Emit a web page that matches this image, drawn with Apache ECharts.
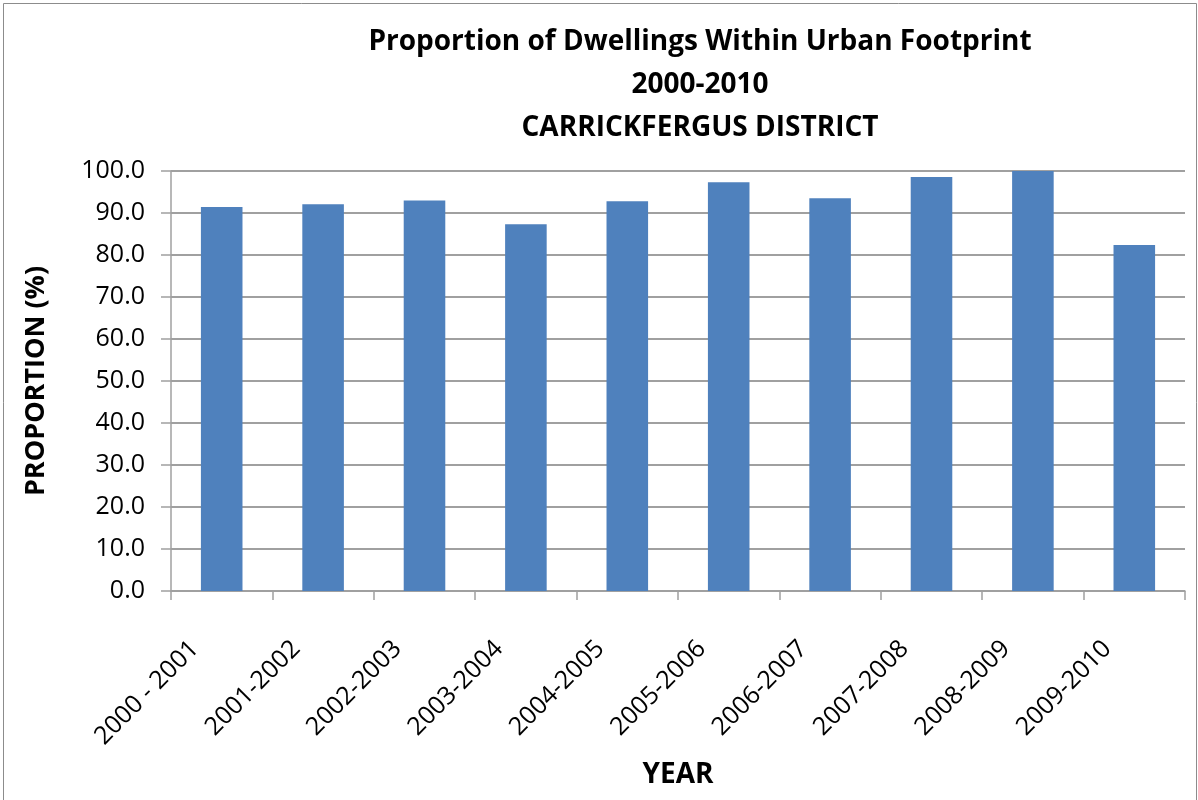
<!DOCTYPE html>
<html>
<head>
<meta charset="utf-8">
<script src="https://cdn.jsdelivr.net/npm/echarts@6/dist/echarts.min.js"></script>
<style>
  html, body { margin: 0; padding: 0; background: #fff; }
  #chart { width: 1198px; height: 800px; }
</style>
</head>
<body>
<div id="chart"></div>
<script>
// 数据
const years = ['2000 - 2001', '2001-2002', '2002-2003', '2003-2004', '2004-2005',
  '2005-2006', '2006-2007', '2007-2008', '2008-2009', '2009-2010']
const proportion = [91.4, 92.1, 93.0, 87.3, 92.8, 97.3, 93.5, 98.6, 100.0, 82.4]
const titleLines = ['Proportion of Dwellings Within Urban Footprint', '2000-2010', 'CARRICKFERGUS DISTRICT']

const font = '"Open Sans", "Noto Sans", sans-serif'
const chart = echarts.init(document.getElementById('chart'))

const option = {
  animation: false,
  title: {
    text: titleLines.join('\n'),
    left: 695,
    top: 16,
    textAlign: 'center',
    textStyle: {
      fontFamily: font,
      fontWeight: 'bold',
      fontSize: 28,
      lineHeight: 43,
      color: '#000'
    }
  },
  // 外框
  graphic: [{
    type: 'rect',
    shape: { x: 3.5, y: 3.5, width: 1193, height: 800 },
    style: { fill: 'none', stroke: '#8c8c8c', lineWidth: 1 },
    silent: true
  }],
  grid: {
    left: 171,
    right: 13,
    top: 171,
    bottom: 209,
    outerBoundsMode: 'none'  // 不自动收缩绘图区
  },
  xAxis: {
    type: 'category',
    data: years,
    name: 'YEAR',
    nameLocation: 'middle',
    nameGap: 170,
    nameTextStyle: { fontFamily: font, fontWeight: 'bold', fontSize: 28, color: '#000' },
    axisLine: { lineStyle: { color: '#a0a0a0', width: 1.5 } },
    axisTick: { show: true, length: 9, lineStyle: { color: '#a0a0a0', width: 1.5 } },
    axisLabel: {
      interval: 0,
      rotate: 45,
      margin: 27,
      padding: [0, 38, 0, 0],  // 沿文字方向左移，使标签末端对齐参考图
      fontFamily: font,
      fontSize: 25,
      color: '#000'
    }
  },
  yAxis: {
    type: 'value',
    min: 0,
    max: 100,
    interval: 10,
    name: 'PROPORTION (%)',
    nameLocation: 'middle',
    nameGap: 121,
    nameTextStyle: { fontFamily: font, fontWeight: 'bold', fontSize: 27, color: '#000' },
    axisLine: { show: true, lineStyle: { color: '#a0a0a0', width: 1.5 } },
    axisTick: { show: true, length: 10, lineStyle: { color: '#a0a0a0', width: 1.5 } },
    splitLine: { lineStyle: { color: '#a0a0a0', width: 2 } },
    axisLabel: {
      margin: 26,
      fontFamily: font,
      fontSize: 25,
      color: '#000',
      formatter: (v) => v.toFixed(1)
    }
  },
  series: [{
    type: 'bar',
    data: proportion,
    barCategoryGap: '59%',
    itemStyle: { color: '#4f81bd' }
  }]
}
chart.setOption(option)
</script>
</body>
</html>
